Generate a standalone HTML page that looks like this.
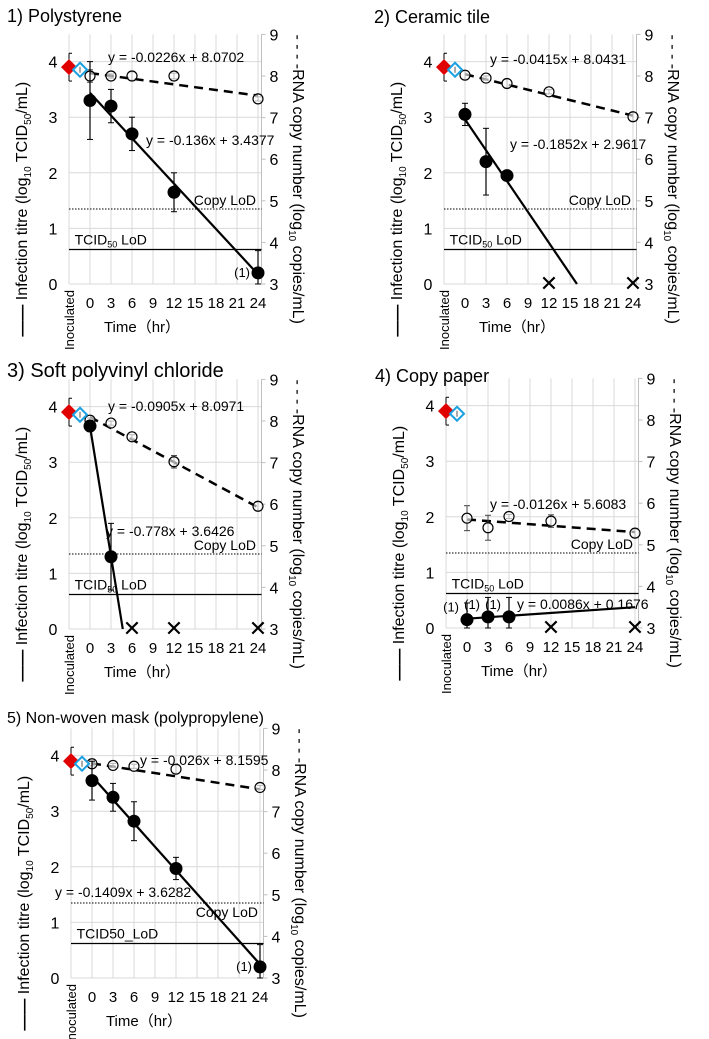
<!DOCTYPE html>
<html><head><meta charset="utf-8">
<style>
body{margin:0;background:#fff;}
svg{display:block;font-family:"Liberation Sans",Arial,sans-serif;}
</style></head>
<body>
<svg id="c" width="709" height="1039" viewBox="0 0 709 1039" xmlns="http://www.w3.org/2000/svg"></svg>
<script>
// ---- data ----
const times = [0, 3, 6, 12, 24];
const p1Titre = [3.3, 3.2, 2.7, 1.65, 0.2];
const p1TitreErr = [0.7, 0.3, 0.3, 0.35, 0.4];
const p1Rna = [8.0, 8.0, 8.0, 8.0, 7.45];
const p1RnaErr = [0.15, 0.05, 0.1, 0.07, 0.05];
const p1Fit = [-0.136, 3.4377];
const p1RnaFit = [-0.0226, 8.0702];

const p2TitreT = [0, 3, 6];
const p2Titre = [3.05, 2.2, 1.95];
const p2TitreErr = [0.2, 0.6, 0.05];
const p2Xs = [12, 24];
const p2Rna = [8.02, 7.95, 7.82, 7.62, 7.02];
const p2RnaErr = [0.1, 0.05, 0.1, 0.05, 0.1];
const p2Fit = [-0.1852, 2.9617];
const p2RnaFit = [-0.0415, 8.0431];

const p3TitreT = [0, 3];
const p3Titre = [3.65, 1.3];
const p3TitreErr = [0.1, 0.6];
const p3Xs = [6, 12, 24];
const p3Rna = [8.02, 7.95, 7.62, 7.02, 5.95];
const p3RnaErr = [0.05, 0.05, 0.05, 0.15, 0.1];
const p3Fit = [-0.778, 3.6426];
const p3RnaFit = [-0.0905, 8.0971];

const p4TitreT = [0, 3, 6];
const p4Titre = [0.15, 0.2, 0.2];
const p4TitreErr = [0.3, 0.35, 0.35];
const p4Xs = [12, 24];
const p4Rna = [5.64, 5.41, 5.68, 5.57, 5.28];
const p4RnaErr = [0.3, 0.3, 0.05, 0.15, 0.1];
const p4Fit = [0.0086, 0.1676];
const p4RnaFit = [-0.0126, 5.6083];

const p5Titre = [3.55, 3.25, 2.82, 1.97, 0.2];
const p5TitreErr = [0.35, 0.25, 0.35, 0.2, 0.4];
const p5Rna = [8.15, 8.11, 8.09, 8.02, 7.58];
const p5RnaErr = [0.05, 0.05, 0.05, 0.1, 0.05];
const p5Fit = [-0.1409, 3.6282];
const p5RnaFit = [-0.026, 8.1595];

const leftTicks = [0, 1, 2, 3, 4];
const rightTicks = [3, 4, 5, 6, 7, 8, 9];
const xTicks = [0, 3, 6, 9, 12, 15, 18, 21, 24];
const inocTitre = 3.9, inocErr = 0.25, inocRna = 8.15;
const copyLod = 1.35, tcidLod = 0.62;

const NS = "http://www.w3.org/2000/svg";
const svg = document.getElementById('c');
function mk(tag, attrs, parent, text){
  const e = document.createElementNS(NS, tag);
  for (const k in attrs) e.setAttribute(k, attrs[k]);
  if (text !== undefined) e.textContent = text;
  (parent || svg).appendChild(e);
  return e;
}

function panel(cfg){
  const g = mk('g', {});
  
  
  const ox = cfg.ox, oy = cfg.oy;
  const X = t => ox + t * 7;
  const YL = v => oy - v * 55.6;
  const YR = v => oy - (v - 3) * 41.6;
  const top = YR(9);
  for (let t = -3; t <= 24; t += 3){
    const l = mk('line', {x1: X(t), x2: X(t), y1: top, y2: oy, stroke: '#d9d9d9', 'stroke-width': 1}, g);
    
    
  }
  leftTicks.forEach(v => {
    const l = mk('line', {x1: X(-3), x2: X(24.5), y1: YL(v), y2: YL(v), stroke: '#d9d9d9', 'stroke-width': 1}, g);
    
    
    const t = mk('text', {x: ox - 37, y: YL(v) + 6, 'font-size': 16, 'text-anchor': 'middle'}, g, v);
    
    
  });
  const ra = mk('line', {x1: X(24.5), x2: X(24.5), y1: top, y2: oy, stroke: '#bfbfbf'}, g);
  
  
  rightTicks.forEach(v => {
    mk('line', {x1: X(24.5), x2: X(24.5) + 4, y1: YR(v), y2: YR(v), stroke: '#bfbfbf'}, g);
    const t = mk('text', {x: X(24.5) + 8, y: YR(v) + 6, 'font-size': 16}, g, v);
    
    
  });
  xTicks.forEach(v => {
    const t = mk('text', {x: X(v), y: oy + 24, 'font-size': 15, 'text-anchor': 'middle'}, g, v);
    
    
  });
  const inl = mk('text', {x: 0, y: 0, 'font-size': 13, 'text-anchor': 'end', transform: `translate(${X(-3)+5},${oy+6}) rotate(-90)`}, g, 'Inoculated');
  
  
  const xt = mk('text', {x: ox + 52, y: oy + 48, 'font-size': 15, 'text-anchor': 'middle'}, g, 'Time（hr）');
  
  
  const tt = mk('text', {x: cfg.tx, y: cfg.ty, 'font-size': cfg.tfs || 18}, g, cfg.title);
  
  
  const lt = mk('text', {x: 0, y: 0, 'font-size': 16, 'text-anchor': 'middle', transform: `translate(${ox-63},${(top+oy)/2+50}) rotate(-90)`}, g);
  
  
  lt.innerHTML = '<tspan font-weight="bold">——</tspan> Infection titre (log<tspan font-size="10" dy="4">10</tspan><tspan dy="-4"> TCID</tspan><tspan font-size="10" dy="4">50</tspan><tspan dy="-4">/mL)</tspan>';
  const rt = mk('text', {x: 0, y: 0, 'font-size': 16, 'text-anchor': 'middle', transform: `translate(${ox+203},${(top+oy)/2+20}) rotate(90)`}, g);
  
  
  rt.innerHTML = '- - - -RNA copy number (log<tspan font-size="10" dy="4">10</tspan><tspan dy="-4"> copies/mL)</tspan>';
  const cl = mk('line', {x1: X(-3), x2: X(24.5), y1: YL(copyLod), y2: YL(copyLod), stroke: '#000', 'stroke-dasharray': '1.5,1.5'}, g);
  
  
  mk('text', {x: X(24) - 2, y: YL(copyLod) - 4 + (cfg.copyDy||0), 'font-size': 14, 'text-anchor': 'end'}, g, 'Copy LoD');
  const tl = mk('line', {x1: X(-3), x2: X(24.5), y1: YL(tcidLod), y2: YL(tcidLod), stroke: '#000', 'stroke-width': 1.2}, g);
  
  
  const tlt = mk('text', {x: X(-2.2), y: YL(tcidLod) - 5, 'font-size': 14}, g);
  tlt.innerHTML = cfg.tcidText;
  const rf = mk('line', {x1: X(0), y1: YR(cfg.rnaFit[1]), x2: X(24), y2: YR(cfg.rnaFit[0]*24 + cfg.rnaFit[1]), stroke: '#000', 'stroke-width': 2.5, 'stroke-dasharray': '9,6'}, g);
  
  
  let tEnd = 24;
  if (cfg.fit[0] * 24 + cfg.fit[1] < 0) tEnd = -cfg.fit[1] / cfg.fit[0];
  const tf = mk('line', {x1: X(0), y1: YL(cfg.fit[1]), x2: X(tEnd), y2: YL(cfg.fit[0]*tEnd + cfg.fit[1]), stroke: '#000', 'stroke-width': 2.2}, g);
  
  
  times.forEach((t, i) => {
    const v = cfg.rna[i], e = cfg.rnaErr[i];
    mk('line', {x1: X(t), x2: X(t), y1: YR(v+e), y2: YR(v-e), stroke: '#444'}, g);
    mk('line', {x1: X(t)-3, x2: X(t)+3, y1: YR(v+e), y2: YR(v+e), stroke: '#444'}, g);
    mk('line', {x1: X(t)-3, x2: X(t)+3, y1: YR(v-e), y2: YR(v-e), stroke: '#444'}, g);
    const c = mk('circle', {cx: X(t), cy: YR(v), r: 5, fill: '#fff', 'fill-opacity': 0.6, stroke: '#000', 'stroke-width': 1.2}, g);
    
    
  });
  cfg.titreT.forEach((t, i) => {
    const v = cfg.titre[i], e = cfg.titreErr[i];
    mk('line', {x1: X(t), x2: X(t), y1: YL(v+e), y2: YL(Math.max(0, v-e)), stroke: '#000', 'stroke-width': 1.2}, g);
    mk('line', {x1: X(t)-3, x2: X(t)+3, y1: YL(v+e), y2: YL(v+e), stroke: '#000'}, g);
    mk('line', {x1: X(t)-3, x2: X(t)+3, y1: YL(Math.max(0,v-e)), y2: YL(Math.max(0,v-e)), stroke: '#000'}, g);
    const c = mk('circle', {cx: X(t), cy: YL(v), r: 6.5, fill: '#000'}, g);
    
    
  });
  (cfg.ones || []).forEach(t => {
    mk('text', {x: X(t) - 8, y: YL(cfg.titre[cfg.titreT.indexOf(t)]) - (cfg.onesUp ? 8 : -4), 'font-size': 13, 'text-anchor': 'end'}, g, '(1)');
  });
  (cfg.xs || []).forEach(t => {
    const m = mk('text', {x: X(t), y: oy + 7, 'font-size': 22, 'text-anchor': 'middle'}, g, '✕');
    
    
  });
  const ix = X(-3);
  mk('line', {x1: ix, x2: ix, y1: YL(inocTitre+inocErr), y2: YL(inocTitre-inocErr), stroke: '#000'}, g);
  mk('line', {x1: ix, x2: ix+3, y1: YL(inocTitre+inocErr), y2: YL(inocTitre+inocErr), stroke: '#000'}, g);
  mk('line', {x1: ix, x2: ix+3, y1: YL(inocTitre-inocErr), y2: YL(inocTitre-inocErr), stroke: '#000'}, g);
  const rd = mk('polygon', {points: `${ix},${YL(inocTitre)-8} ${ix+8},${YL(inocTitre)} ${ix},${YL(inocTitre)+8} ${ix-8},${YL(inocTitre)}`, fill: '#e00000'}, g);
  
  
  const cx = ix + 11, cy = YR(inocRna);
  const cd = mk('polygon', {points: `${cx},${cy-7} ${cx+7},${cy} ${cx},${cy+7} ${cx-7},${cy}`, fill: '#fff', stroke: '#1aa0e0', 'stroke-width': 2}, g);
  
  
  mk('line', {x1: cx, x2: cx, y1: cy-3, y2: cy+3, stroke: '#555'}, g);
  const re = mk('text', {x: cfg.rEq[0], y: cfg.rEq[1], 'font-size': 14}, g, `y = ${cfg.rnaFit[0]}x + ${cfg.rnaFit[1]}`);
  
  
  const te = mk('text', {x: cfg.tEq[0], y: cfg.tEq[1], 'font-size': 14}, g, `y = ${cfg.fit[0]}x + ${cfg.fit[1]}`);
  
  
}

const tcidSub = 'TCID<tspan font-size="9" dy="3">50</tspan><tspan dy="-3"> LoD</tspan>';
panel({id: 1, ox: 90, oy: 284, tx: 7, ty: 22, title: '1) Polystyrene', titre: p1Titre, titreT: times, titreErr: p1TitreErr, rna: p1Rna, rnaErr: p1RnaErr, fit: p1Fit, rnaFit: p1RnaFit, ones: [24], tcidText: tcidSub, rEq: [108, 62], tEq: [146, 145]});
panel({id: 2, ox: 465, oy: 284, tx: 374, ty: 23, title: '2) Ceramic tile', titre: p2Titre, titreT: p2TitreT, titreErr: p2TitreErr, rna: p2Rna, rnaErr: p2RnaErr, fit: p2Fit, rnaFit: p2RnaFit, xs: p2Xs, tcidText: tcidSub, rEq: [490, 64], tEq: [510, 149]});
panel({id: 3, ox: 90, oy: 629, tx: 7, ty: 377, tfs: 20, title: '3) Soft polyvinyl chloride', titre: p3Titre, titreT: p3TitreT, titreErr: p3TitreErr, rna: p3Rna, rnaErr: p3RnaErr, fit: p3Fit, rnaFit: p3RnaFit, xs: p3Xs, tcidText: tcidSub, rEq: [108, 411], tEq: [106, 536]});
panel({id: 4, ox: 467, oy: 628, tx: 375, ty: 382, title: '4) Copy paper', titre: p4Titre, titreT: p4TitreT, titreErr: p4TitreErr, rna: p4Rna, rnaErr: p4RnaErr, fit: p4Fit, rnaFit: p4RnaFit, xs: p4Xs, ones: [0, 3, 6], onesUp: true, tcidText: tcidSub, rEq: [490, 509], tEq: [517, 609]});
panel({id: 5, ox: 92, oy: 978, tx: 7, ty: 723, tfs: 16, title: '5) Non-woven mask (polypropylene)', titre: p5Titre, titreT: times, titreErr: p5TitreErr, rna: p5Rna, rnaErr: p5RnaErr, fit: p5Fit, rnaFit: p5RnaFit, ones: [24], copyDy: 18, tcidText: 'TCID50_LoD', rEq: [140, 765], tEq: [55, 897]});
</script>
</body></html>
